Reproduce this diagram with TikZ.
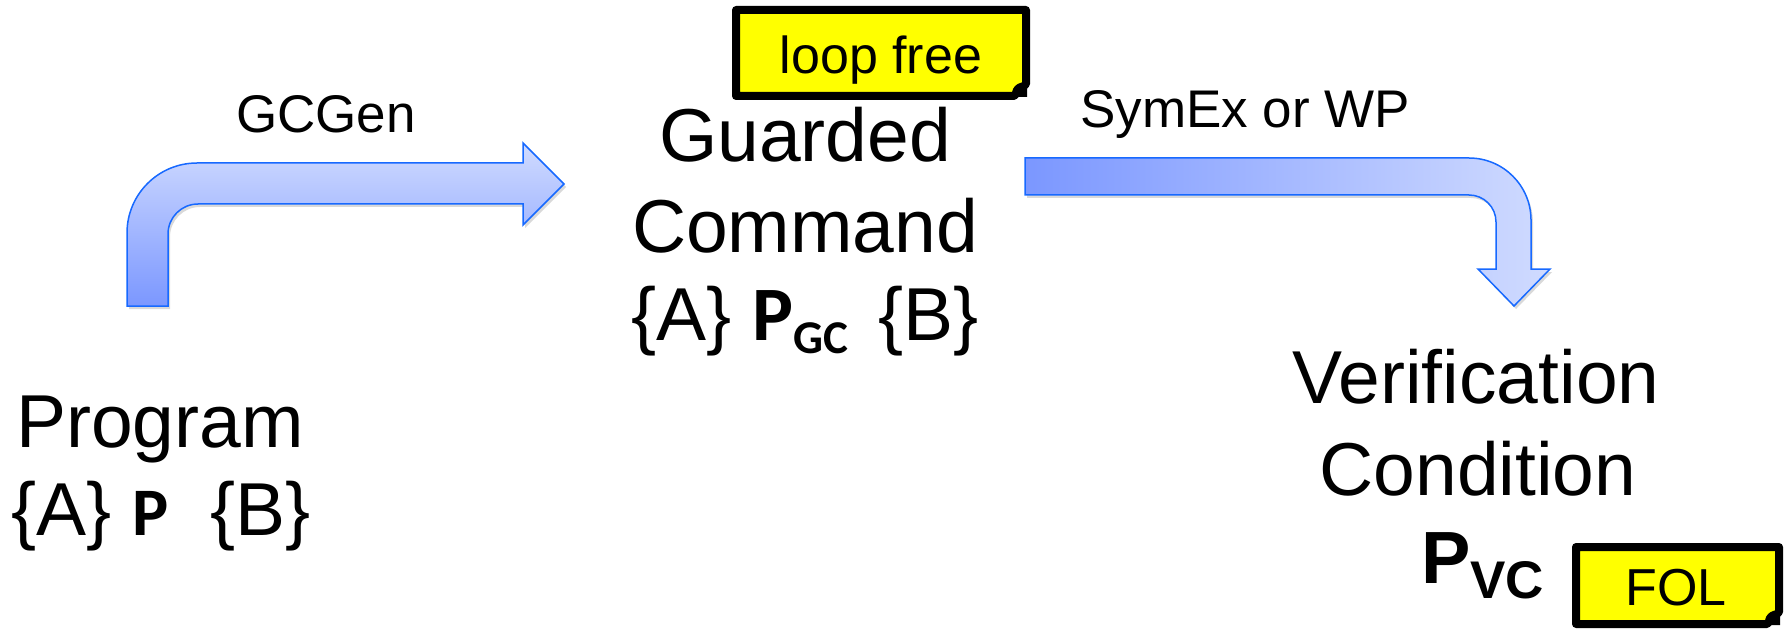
\documentclass[tikz,border=0pt]{standalone}
\usepackage{fontspec}
\setmainfont{Liberation Sans}
\newfontfamily\carlito{Carlito}
\definecolor{arrowline}{HTML}{1769FF}
\definecolor{arrowlight}{HTML}{D0DBFF}
\definecolor{arrowdark}{HTML}{7B97FF}
\definecolor{noteyellow}{HTML}{FFFF00}
\begin{document}
\begin{tikzpicture}[x=1pt,y=-1pt,
  maintext/.style={font=\fontsize{75}{88}\selectfont, inner sep=0pt, anchor=base},
  labeltext/.style={font=\fontsize{53}{60}\selectfont, inner sep=0pt, anchor=base},
  notetext/.style={font=\fontsize{52}{60}\selectfont, inner sep=0pt, anchor=base},
  bentarrow/.style={draw=arrowline, line width=1.5pt, line join=miter},
  shadowpath/.style={fill=black, opacity=0.15},
  notebox/.style={fill=noteyellow, draw=black, line width=8pt, line join=round},
  ]
\useasboundingbox (0,0) rectangle (1788,631);

% ---- arrow 1 (GCGen) ----
\fill[shadowpath, shift={(2,3)}]
  (127,306) [rounded corners=70pt]-- (127,163) [sharp corners]-- (523,163) -- (523,143) -- (564,184) -- (523,225) -- (523,204)
  [rounded corners=30pt]-- (168,204) [sharp corners]-- (168,306) -- cycle;
\path[bentarrow, top color=arrowlight, bottom color=arrowdark]
  (127,306) [rounded corners=70pt]-- (127,163) [sharp corners]-- (523,163) -- (523,143) -- (564,184) -- (523,225) -- (523,204)
  [rounded corners=30pt]-- (168,204) [sharp corners]-- (168,306) -- cycle;

% ---- arrow 2 (SymEx or WP) ----
\fill[shadowpath, shift={(2,3)}]
  (1025,158) [rounded corners=62pt]-- (1531,158) [sharp corners]-- (1531,269) -- (1550,269) -- (1514,306) -- (1478,269) -- (1496,269)
  [rounded corners=27pt]-- (1496,195) [sharp corners]-- (1025,195) -- cycle;
\path[bentarrow, left color=arrowdark, right color=arrowlight]
  (1025,158) [rounded corners=62pt]-- (1531,158) [sharp corners]-- (1531,269) -- (1550,269) -- (1514,306) -- (1478,269) -- (1496,269)
  [rounded corners=27pt]-- (1496,195) [sharp corners]-- (1025,195) -- cycle;

% ---- labels ----
\node[labeltext] (gcgen) at (326,133) {GCGen};
\node[labeltext, anchor=base west] (symex) at (1080,128) {SymEx or WP};

% ---- Program ----
\node[maintext] (prog1) at (160,447) {Program};
\node[maintext] (prog2) at (161,535) {\{A\} {\carlito\bfseries\fontsize{68}{70}\selectfont P}\ \ \{B\}};

% ---- Guarded Command ----
\node[maintext] (gc1) at (805,162) {Guarded};
\node[maintext] (gc2) at (805,252) {Command};
\node[maintext] (gc3) at (805,340) {\{A\} {\carlito\bfseries\fontsize{77}{80}\selectfont P\raisebox{-13pt}{\fontsize{47}{50}\selectfont GC}}\hspace{9pt} \{B\}};

% ---- Verification Condition ----
\node[maintext] (vc1) at (1476,403) {Verification};
\node[maintext] (vc2) at (1478,495) {Condition};
\node[maintext, anchor=base west] (vc3) at (1421,583) {\bfseries\fontsize{74}{80}\selectfont P\raisebox{-15pt}{\fontsize{53}{60}\selectfont VC}};

% ---- note: loop free ----
\path[notebox] (736,10) -- (1026,10) -- (1026,84) -- (1014,96) -- (736,96) -- cycle;
\fill (1027,82) .. controls (1016,82) and (1011,88) .. (1012,97) -- (1027,97) -- cycle;
\node[notetext] (loopfree) at (881,74) {loop free};

% ---- note: FOL ----
\path[notebox] (1576,547) -- (1779,547) -- (1779,612) -- (1767,624) -- (1576,624) -- cycle;
\fill (1780,610) .. controls (1769,610) and (1764,616) .. (1765,625) -- (1780,625) -- cycle;
\node[notetext] (fol) at (1676,605) {FOL};
\end{tikzpicture}
\end{document}
